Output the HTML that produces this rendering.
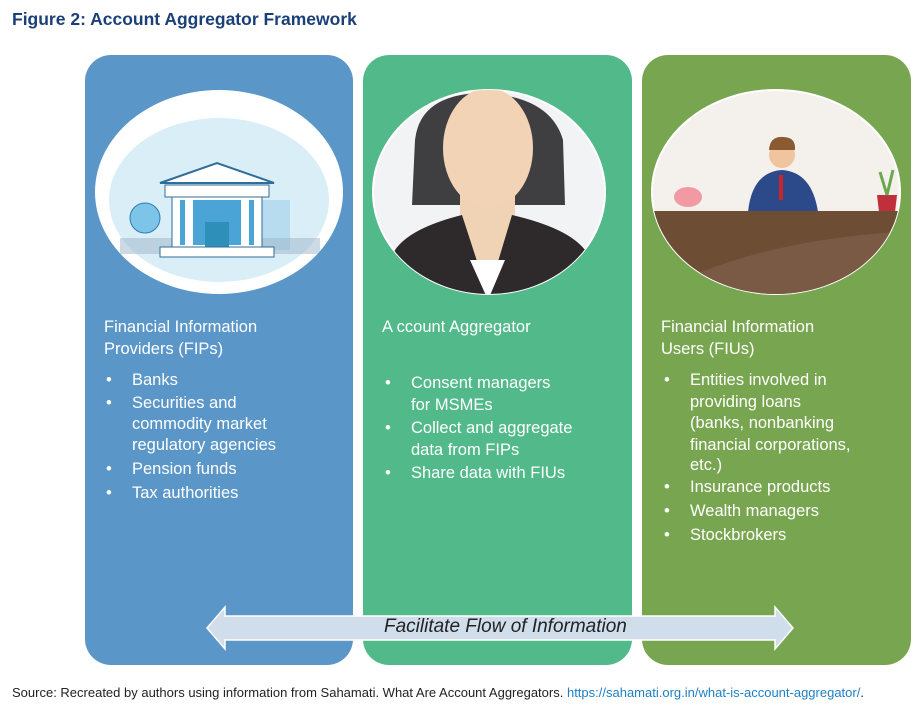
<!DOCTYPE html>
<html><head><meta charset="utf-8"><style>
body{margin:0;width:921px;height:713px;background:#fff;position:relative;overflow:hidden;font-family:"Liberation Sans",sans-serif}
.a{position:absolute;white-space:nowrap;color:#fff;font-size:16.5px;line-height:20px}
.p{position:absolute;border-radius:26px}
</style></head><body>
<div class="a" style="left:12px;top:9px;color:#1b3f78;font-weight:bold;font-size:17.5px">Figure 2: Account Aggregator Framework</div>
<div class="p" style="left:85px;top:55px;width:268px;height:610px;background:#5b96c9"></div>
<div class="p" style="left:363px;top:55px;width:269px;height:610px;background:#52b98a"></div>
<div class="p" style="left:642px;top:55px;width:269px;height:610px;background:#78a650"></div>
<svg style="position:absolute;left:0;top:0" width="921" height="713">
<defs>
<clipPath id="c1"><ellipse cx="219" cy="192" rx="124" ry="102"/></clipPath>
<clipPath id="c2"><ellipse cx="489" cy="192" rx="116" ry="102"/></clipPath>
<clipPath id="c3"><ellipse cx="776" cy="192" rx="124" ry="102"/></clipPath>
</defs>
<ellipse cx="219" cy="192" rx="124" ry="102" fill="#fff"/>
<g clip-path="url(#c1)">
<ellipse cx="219" cy="200" rx="110" ry="82" fill="#daeef8"/>
<rect x="250" y="200" width="40" height="50" fill="#b8dcef"/>
<circle cx="145" cy="218" r="15" fill="#7cc4e8" stroke="#2f7cb0"/>
<rect x="120" y="238" width="200" height="16" fill="#9cb3c7" opacity=".5"/>
<polygon points="160,183 217,163 274,183" fill="#fff" stroke="#2f6e9a" stroke-width="2"/>
<rect x="165" y="185" width="104" height="12" fill="#fff" stroke="#2f6e9a"/>
<rect x="172" y="197" width="90" height="50" fill="#fff" stroke="#2f6e9a"/>
<rect x="180" y="200" width="74" height="45" fill="#4aa5d6"/>
<rect x="185" y="200" width="8" height="45" fill="#fff"/><rect x="241" y="200" width="8" height="45" fill="#fff"/>
<rect x="205" y="222" width="24" height="25" fill="#2e8fb8"/>
<rect x="160" y="247" width="114" height="10" fill="#fff" stroke="#2f6e9a"/>
</g>
<ellipse cx="489" cy="192" rx="116" ry="102" fill="#f2f3f4" stroke="#fff" stroke-width="2"/>
<g clip-path="url(#c2)">
<path d="M415,140 Q420,95 480,93 Q550,95 563,140 L565,205 L412,205 Z" fill="#3f3f42"/>
<rect x="460" y="190" width="55" height="70" fill="#f0d2b4"/>
<ellipse cx="488" cy="148" rx="45" ry="60" fill="#f2d3b5"/>
<path d="M395,250 Q410,228 462,215 L488,295 L512,215 Q568,228 585,250 L595,300 L385,300 Z" fill="#2e2a2b"/>
<path d="M470,260 L488,300 L505,260 Z" fill="#fff"/>
</g>
<ellipse cx="776" cy="192" rx="124" ry="102" fill="#f4f1ec" stroke="#fff" stroke-width="2"/>
<g clip-path="url(#c3)">
<path d="M748,212 Q752,172 782,170 Q812,172 818,212 Z" fill="#2c4a8a"/>
<rect x="779" y="175" width="4" height="25" fill="#c8262a"/>
<circle cx="782" cy="155" r="13" fill="#f0c49e"/>
<path d="M769,150 Q770,136 783,137 Q796,137 795,150 Z" fill="#8a5a30"/>
<ellipse cx="688" cy="197" rx="14" ry="10" fill="#f19aa4"/>
<path d="M877,195 L897,195 L895,212 L879,212 Z" fill="#c0303a"/>
<path d="M887,195 L880,172 M887,195 L893,170" stroke="#6aa84f" stroke-width="3"/>
<rect x="640" y="211" width="280" height="90" fill="#6d4d33"/>
<path d="M660,290 Q760,240 900,232 L900,300 L660,300 Z" fill="#7a5a44"/>
</g>
</svg>
<div class="a" style="left:104px;top:317px">Financial Information</div>
<div class="a" style="left:104px;top:339px">Providers (FIPs)</div>
<div class="a" style="left:106px;top:370px">•</div><div class="a" style="left:132px;top:370px">Banks</div>
<div class="a" style="left:106px;top:393px">•</div><div class="a" style="left:132px;top:393px">Securities and</div>
<div class="a" style="left:132px;top:414px">commodity market</div>
<div class="a" style="left:132px;top:435px">regulatory agencies</div>
<div class="a" style="left:106px;top:459px">•</div><div class="a" style="left:132px;top:459px">Pension funds</div>
<div class="a" style="left:106px;top:483px">•</div><div class="a" style="left:132px;top:483px">Tax authorities</div>

<div class="a" style="left:382px;top:317px">A ccount Aggregator</div>
<div class="a" style="left:385px;top:373px">•</div><div class="a" style="left:411px;top:373px">Consent managers</div>
<div class="a" style="left:411px;top:395px">for MSMEs</div>
<div class="a" style="left:385px;top:418px">•</div><div class="a" style="left:411px;top:418px">Collect and aggregate</div>
<div class="a" style="left:411px;top:440px">data from FIPs</div>
<div class="a" style="left:385px;top:463px">•</div><div class="a" style="left:411px;top:463px">Share data with FIUs</div>

<div class="a" style="left:661px;top:317px">Financial Information</div>
<div class="a" style="left:661px;top:339px">Users (FIUs)</div>
<div class="a" style="left:664px;top:370px">•</div><div class="a" style="left:690px;top:370px">Entities involved in</div>
<div class="a" style="left:690px;top:392px">providing loans</div>
<div class="a" style="left:690px;top:413px">(banks, nonbanking</div>
<div class="a" style="left:690px;top:435px">financial corporations,</div>
<div class="a" style="left:690px;top:455px">etc.)</div>
<div class="a" style="left:664px;top:477px">•</div><div class="a" style="left:690px;top:477px">Insurance products</div>
<div class="a" style="left:664px;top:501px">•</div><div class="a" style="left:690px;top:501px">Wealth managers</div>
<div class="a" style="left:664px;top:525px">•</div><div class="a" style="left:690px;top:525px">Stockbrokers</div>

<svg style="position:absolute;left:0;top:0" width="921" height="713">
<polygon points="207,628 225,607 225,616 775,616 775,607 793,628 775,649 775,640 225,640 225,649" fill="#d0ddeb" stroke="#fff" stroke-width="1.5"/>
</svg>
<div class="a" style="left:384px;top:617px;color:#222;font-style:italic;font-size:19px">Facilitate Flow of Information</div>
<div class="a" style="left:12px;top:683px;color:#222;font-size:13px">Source: Recreated by authors using information from Sahamati. What Are Account Aggregators. <span style="color:#1f7fc4">https://sahamati.org.in/what-is-account-aggregator/</span>.</div>
</body></html>
